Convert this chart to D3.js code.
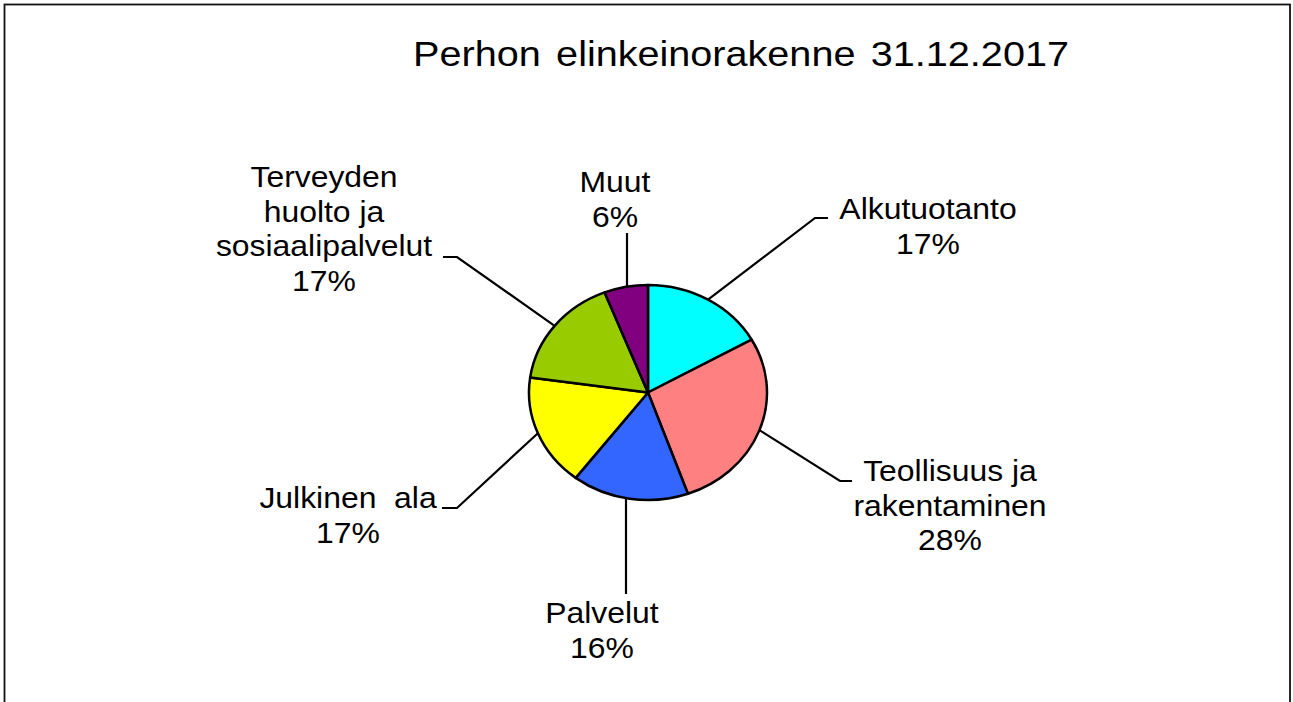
<!DOCTYPE html>
<html>
  <head>
    <meta charset="utf-8">
    <title>Perhon elinkeinorakenne</title>
    <style>
      body {
        margin: 0;
        padding: 0;
        background: #fff;
        font-family: 'Liberation Sans', Arial, sans-serif;
      }
      #chart {
        width: 1293px;
        height: 702px;
      }
      text {
        white-space: pre;
      }
    </style>
  </head>
  <body>
    <div id="chart"></div>

    <script src="https://cdnjs.cloudflare.com/ajax/libs/d3/7.8.5/d3.min.js"></script>
    <script>
      // Data
      const categories = ["Alkutuotanto", "Teollisuus ja rakentaminen", "Palvelut", "Julkinen ala", "Terveyden huolto ja sosiaalipalvelut", "Muut"];
      const values = [17, 28, 16, 17, 17, 6];
      const labelLines = [
        ["Alkutuotanto"],
        ["Teollisuus ja", "rakentaminen"],
        ["Palvelut"],
        ["Julkinen  ala"],
        ["Terveyden", "huolto ja", "sosiaalipalvelut"],
        ["Muut"]
      ];
      const colors = ["#00FFFF", "#FF8080", "#3366FF", "#FFFF00", "#99CC00", "#800080"];

      // Label layout: text centre / first baseline, leader elbow and end
      const labelLayout = [
        {x: 928, y: 219, elbow: [815, 218], end: [828, 218]},
        {x: 950, y: 481, elbow: [840, 481], end: [852, 481]},
        {x: 602, y: 623, elbow: null, end: [626, 594]},
        {x: 348, y: 508, elbow: [457, 508], end: [442, 508]},
        {x: 324, y: 187, elbow: [457, 257], end: [443, 257]},
        {x: 615, y: 192, elbow: null, end: [627, 233]}
      ];

      const W = 1293, H = 702;
      const cx = 648, cy = 392.5, r = 107.5, sx = 1.107;
      const lineH = 34.5;
      const stretch = 'scale(1.1,1)';

      const svg = d3.select('#chart')
        .append('svg')
        .attr('width', W)
        .attr('height', H);

      // frame
      svg.append('rect')
        .attr('x', 4.5).attr('y', 4.5)
        .attr('width', 1285.5).attr('height', 720)
        .attr('fill', 'none')
        .attr('stroke', '#111')
        .attr('stroke-width', 1.8);

      // title
      svg.append('text')
        .attr('transform', `translate(741,66) ${stretch}`)
        .attr('text-anchor', 'middle')
        .attr('font-size', 36)
        .attr('word-spacing', 4)
        .attr('fill', '#000')
        .text('Perhon elinkeinorakenne 31.12.2017');

      const pie = d3.pie().sort(null).value(d => d);
      const arcs = pie(values);
      const arc = d3.arc().innerRadius(0).outerRadius(r);

      // leader lines (start at slice mid angle on the rim)
      arcs.forEach((a, i) => {
        const mid = (a.startAngle + a.endAngle) / 2;
        const p0 = [cx + Math.sin(mid) * r * sx, cy - Math.cos(mid) * r];
        const L = labelLayout[i];
        let pts;
        if (L.elbow) pts = [p0, L.elbow, L.end];
        else pts = [[L.end[0], p0[1]], L.end];
        svg.append('path')
          .attr('d', d3.line()(pts))
          .attr('fill', 'none')
          .attr('stroke', '#000')
          .attr('stroke-width', 2.2);
      });

      // pie (slightly stretched horizontally like the original)
      const g = svg.append('g')
        .attr('transform', `translate(${cx},${cy}) scale(${sx},1)`);

      g.selectAll('path')
        .data(arcs)
        .enter()
        .append('path')
        .attr('d', arc)
        .attr('fill', (d, i) => colors[i])
        .attr('stroke', '#000')
        .attr('stroke-width', 2.5)
        .attr('stroke-linejoin', 'round')
        .attr('vector-effect', 'non-scaling-stroke');

      // labels
      arcs.forEach((a, i) => {
        const L = labelLayout[i];
        const lines = labelLines[i].concat([Math.round(values[i]) + '%']);
        lines.forEach((t, k) => {
          svg.append('text')
            .attr('transform', `translate(${L.x},${L.y + k * lineH}) ${stretch}`)
            .attr('text-anchor', 'middle')
            .attr('font-size', 29)
            .attr('fill', '#000')
            .text(t);
        });
      });
    </script>
  </body>
</html>
